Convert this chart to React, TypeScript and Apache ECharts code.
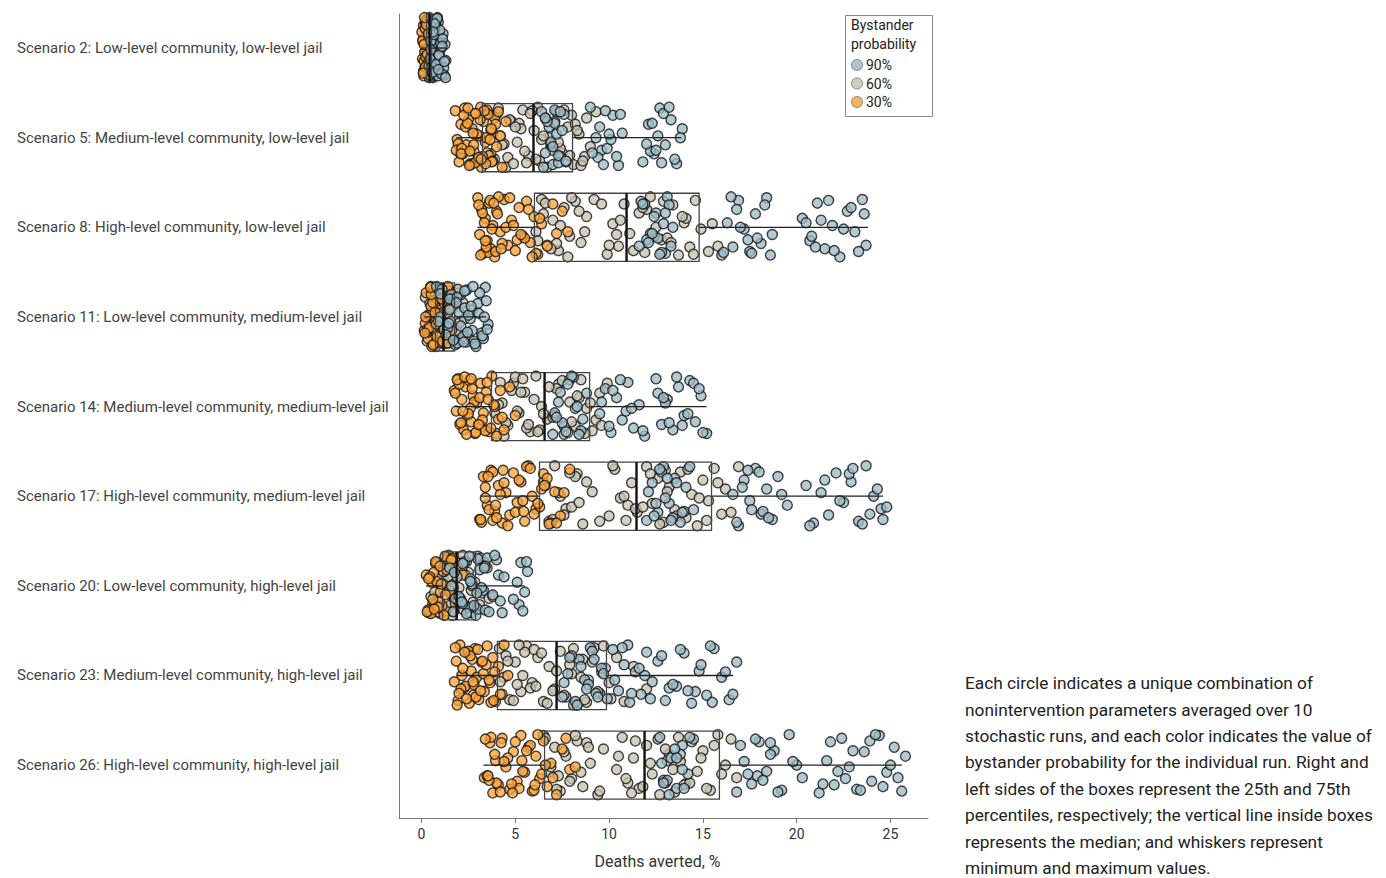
import React, { useEffect, useRef } from "react";
import * as echarts from "echarts";

const FONT = "Roboto, sans-serif";

const SCENARIOS = [
  "Scenario 2: Low-level community, low-level jail",
  "Scenario 5: Medium-level community, low-level jail",
  "Scenario 8: High-level community, low-level jail",
  "Scenario 11: Low-level community, medium-level jail",
  "Scenario 14: Medium-level community, medium-level jail",
  "Scenario 17: High-level community, medium-level jail",
  "Scenario 20: Low-level community, high-level jail",
  "Scenario 23: Medium-level community, high-level jail",
  "Scenario 26: High-level community, high-level jail",
];

const X_TICKS = [0, 5, 10, 15, 20, 25];

// Box statistics (min, 25th, median, 75th, max)
const BOX_MIN = [0.0, 1.85, 2.98, 0.15, 1.8, 3.15, 0.25, 1.9, 3.3];
const BOX_Q1 = [0.27, 3.25, 6.02, 0.75, 3.73, 6.29, 1.12, 4.05, 6.56];
const BOX_MED = [0.43, 5.97, 10.93, 1.17, 6.56, 11.46, 1.87, 7.2, 11.89];
const BOX_Q3 = [0.53, 8.05, 14.8, 1.76, 8.96, 15.46, 2.88, 9.86, 15.88];
const BOX_MAX = [1.3, 13.86, 23.8, 3.45, 15.2, 24.6, 5.5, 16.6, 25.6];

// Vertical jitter offsets (row units)
const JITTER = [0.12, -0.25, 0.31, -0.05, 0.22, -0.3, 0.02, 0.27, -0.15, 0.18, -0.33, 0.08, -0.2, 0.29, -0.1, 0.15, -0.27, 0.24, -0.02, 0.33, -0.18, 0.05, -0.31, 0.2, -0.08, 0.26, -0.22, 0.1, -0.29, 0.17, -0.12, 0.3, -0.04, 0.21, -0.26, 0.07, -0.16, 0.28, -0.34, 0.0, 0.14];

// Deaths averted (%) per scenario, bystander probability 30%
const P30 = [
  [0.05, 0.1, 0.12, 0.15, 0.18, 0.2, 0.22, 0.25, 0.28, 0.3, 0.32, 0.35, 0.38, 0.4, 0.08, 0.14, 0.24, 0.3, 0.36, 0.42, 0.02, 0.17, 0.27, 0.33, 0.06, 0.11, 0.19, 0.23, 0.29, 0.34, 0.39, 0.44, 0.13, 0.21, 0.26, 0.31, 0.37, 0.09, 0.16],
  [1.8, 1.9, 2.0, 2.1, 2.2, 2.3, 2.4, 2.5, 2.6, 2.7, 2.8, 2.9, 3.0, 3.1, 3.2, 3.3, 3.4, 3.5, 3.6, 3.7, 3.8, 3.9, 4.0, 4.1, 2.05, 2.35, 2.65, 2.95, 3.25, 3.55, 1.95, 2.45, 2.85, 3.15, 3.45, 1.85, 2.15, 2.25, 2.55, 2.75, 3.05, 3.35, 3.65, 3.75, 3.95, 2.12, 2.48, 2.78, 3.12, 3.42, 3.72, 2.58, 2.88, 3.18, 4.2, 4.3, 4.5],
  [3.0, 3.1, 3.2, 3.3, 3.4, 3.5, 3.6, 3.7, 3.8, 3.9, 4.0, 4.2, 4.4, 4.6, 4.8, 5.0, 5.2, 5.4, 5.6, 5.8, 6.0, 6.2, 6.4, 6.7, 7.0, 7.2, 3.25, 3.55, 4.1, 4.5, 5.1, 5.5, 3.05, 3.15, 3.35, 3.45, 3.65, 3.75, 3.95, 4.05, 4.3, 4.7, 5.3, 5.7, 6.1, 6.3, 3.4, 3.85, 4.25, 4.9, 5.9, 7.5, 7.8],
  [0.15, 0.25, 0.35, 0.45, 0.55, 0.65, 0.75, 0.85, 0.95, 1.05, 1.15, 1.25, 1.35, 1.45, 0.3, 0.5, 0.7, 0.9, 1.1, 1.3, 0.2, 0.6, 1.0, 1.4, 0.22, 0.32, 0.42, 0.52, 0.62, 0.72, 0.82, 0.92, 1.02, 1.12, 1.22, 0.18, 0.48, 0.78, 1.08, 1.38, 1.5, 1.6],
  [1.75, 1.85, 1.95, 2.05, 2.15, 2.25, 2.35, 2.45, 2.55, 2.65, 2.75, 2.85, 2.95, 3.05, 3.15, 3.3, 3.45, 3.6, 3.75, 3.9, 4.1, 4.3, 2.0, 2.4, 2.8, 3.2, 1.9, 2.6, 3.4, 1.8, 2.1, 2.3, 2.5, 2.7, 2.9, 3.1, 3.25, 3.5, 3.7, 3.85, 4.0, 4.2, 2.2, 2.65, 3.05, 3.55, 4.4, 4.7, 5.0],
  [3.1, 3.3, 3.5, 3.7, 3.9, 4.1, 4.3, 4.5, 4.7, 4.9, 5.1, 5.3, 5.5, 5.7, 5.9, 6.1, 6.3, 6.5, 6.8, 7.1, 7.4, 7.9, 3.4, 3.8, 4.4, 5.0, 5.6, 6.2, 6.7, 3.2, 3.4, 3.6, 3.8, 4.0, 4.2, 4.6, 5.2, 5.4, 5.8, 6.0, 6.4, 3.15, 3.55, 3.95, 4.35, 5.45, 6.55, 7.2, 7.6],
  [0.25, 0.4, 0.55, 0.7, 0.85, 1.0, 1.15, 1.3, 1.45, 1.6, 1.75, 1.9, 2.0, 0.5, 0.8, 1.1, 1.4, 1.7, 0.35, 0.65, 0.95, 1.25, 1.55, 1.85, 0.3, 0.45, 0.6, 0.75, 0.9, 1.05, 1.2, 1.35, 1.5, 1.65, 1.8, 0.38, 0.68, 0.98, 1.28, 1.58, 1.95, 2.2],
  [1.75, 1.85, 1.95, 2.05, 2.15, 2.25, 2.35, 2.45, 2.55, 2.65, 2.75, 2.85, 2.95, 3.05, 3.2, 3.35, 3.5, 3.65, 3.8, 3.95, 4.1, 2.1, 2.5, 2.9, 3.3, 1.9, 2.7, 3.6, 1.8, 2.0, 2.2, 2.4, 2.6, 2.8, 3.0, 3.15, 3.45, 3.7, 3.9, 4.2, 2.3, 2.75, 3.25, 3.85, 4.4, 4.6],
  [3.35, 3.5, 3.65, 3.8, 3.95, 4.1, 4.3, 4.5, 4.7, 4.9, 5.1, 5.3, 5.5, 5.7, 5.9, 6.1, 6.3, 6.5, 6.7, 6.9, 7.2, 7.5, 7.9, 3.7, 4.0, 4.6, 5.2, 5.8, 6.4, 3.4, 3.6, 3.9, 4.2, 4.4, 4.8, 5.0, 5.4, 5.6, 6.0, 6.2, 6.6, 7.0, 3.55, 4.25, 4.85, 5.35, 6.05, 7.7, 8.2],
];

// bystander probability 60%
const P60 = [
  [0.2, 0.25, 0.3, 0.35, 0.4, 0.45, 0.5, 0.55, 0.6, 0.65, 0.7, 0.75, 0.8, 0.85, 0.32, 0.48, 0.58, 0.68, 0.38, 0.52, 0.62, 0.72, 0.28, 0.44, 0.22, 0.27, 0.33, 0.42, 0.47, 0.53, 0.57, 0.63, 0.67, 0.73, 0.78, 0.82, 0.36, 0.56],
  [3.6, 3.9, 4.2, 4.5, 4.8, 5.1, 5.4, 5.7, 6.0, 6.3, 6.6, 6.9, 7.2, 7.5, 7.8, 8.1, 8.4, 8.7, 4.0, 4.4, 5.2, 5.6, 6.2, 6.8, 7.0, 7.4, 8.0, 8.5, 3.8, 4.6, 5.9, 6.4, 7.7, 8.2, 3.7, 4.1, 4.3, 4.7, 4.9, 5.3, 5.5, 5.8, 6.1, 6.5, 6.7, 7.1, 7.3, 7.6, 7.9, 8.3, 8.6, 8.8, 9.0, 9.3, 3.5, 5.0],
  [6.1, 6.4, 6.7, 7.0, 7.3, 7.6, 7.9, 8.2, 8.5, 8.8, 9.9, 10.2, 10.5, 10.8, 11.1, 11.6, 11.9, 12.2, 12.5, 12.8, 13.1, 13.4, 13.7, 14.0, 14.3, 14.6, 14.9, 15.3, 6.5, 7.2, 8.0, 10.4, 12.0, 13.0, 14.1, 6.2, 6.6, 6.9, 7.4, 7.8, 8.4, 8.7, 9.2, 10.0, 10.6, 11.3, 11.8, 12.4, 12.9, 13.3, 13.9, 14.5, 15.5, 15.8, 9.6],
  [0.2, 0.4, 0.6, 0.8, 1.0, 1.2, 1.4, 1.6, 1.8, 2.0, 2.2, 2.4, 0.5, 0.9, 1.3, 1.7, 2.1, 0.7, 1.1, 1.5, 1.9, 2.3, 0.3, 0.45, 0.65, 0.85, 1.05, 1.25, 1.45, 1.65, 1.85, 2.05, 2.25, 0.35, 0.75, 1.15, 1.55, 1.95, 2.5, 2.7],
  [4.0, 4.3, 4.6, 4.9, 5.2, 5.5, 5.8, 6.1, 6.4, 6.7, 7.0, 7.3, 7.6, 7.9, 8.2, 8.5, 8.8, 9.1, 9.5, 4.5, 5.0, 6.5, 7.2, 7.8, 8.4, 9.3, 4.2, 5.6, 4.1, 4.4, 4.8, 5.1, 5.4, 5.7, 6.0, 6.3, 6.8, 7.1, 7.5, 8.0, 8.3, 8.7, 9.0, 9.6, 9.9, 3.9, 5.3, 6.2],
  [6.5, 6.8, 7.1, 7.4, 7.7, 8.0, 8.3, 8.6, 9.1, 10.0, 10.3, 10.6, 10.9, 11.2, 11.5, 12.0, 12.3, 12.6, 12.9, 13.2, 13.5, 13.8, 14.1, 14.4, 14.7, 15.0, 15.3, 15.6, 16.0, 16.2, 7.0, 8.2, 11.0, 13.0, 14.0, 6.6, 6.9, 7.3, 7.6, 7.9, 8.4, 8.8, 9.5, 10.2, 10.8, 11.4, 11.8, 12.2, 12.7, 13.1, 13.6, 14.2, 14.8, 15.2, 15.8, 16.5, 16.9],
  [0.5, 0.75, 1.0, 1.25, 1.5, 1.75, 2.0, 2.25, 2.5, 2.75, 3.0, 3.25, 3.5, 0.9, 1.4, 1.9, 2.4, 2.9, 1.15, 1.65, 2.15, 2.65, 3.15, 0.6, 0.85, 1.1, 1.35, 1.6, 1.85, 2.1, 2.35, 2.6, 2.85, 3.1, 3.35, 0.7, 1.2, 1.7, 2.2, 2.7, 3.6, 3.8],
  [4.15, 4.4, 4.7, 5.0, 5.3, 5.6, 5.9, 6.2, 6.5, 6.8, 7.1, 7.4, 7.7, 8.0, 8.3, 8.6, 8.9, 9.2, 9.5, 9.8, 10.1, 4.5, 5.1, 6.0, 7.0, 7.9, 8.8, 9.6, 4.3, 5.5, 4.2, 4.6, 4.9, 5.2, 5.4, 5.8, 6.1, 6.4, 6.7, 7.2, 7.6, 8.1, 8.5, 8.7, 9.1, 9.4, 9.7, 10.0, 10.4, 10.8, 11.3, 12.0],
  [6.5, 6.8, 7.1, 7.4, 7.7, 8.0, 8.3, 8.6, 9.0, 9.4, 9.7, 10.4, 10.7, 11.0, 11.3, 11.6, 12.0, 12.3, 12.6, 12.9, 13.2, 13.5, 13.8, 14.1, 14.4, 14.7, 15.0, 15.4, 15.8, 16.2, 16.8, 7.3, 8.8, 11.2, 13.1, 14.0, 6.6, 6.9, 7.2, 7.6, 7.9, 8.2, 8.5, 8.9, 9.5, 10.5, 10.9, 11.4, 11.8, 12.2, 12.7, 13.0, 13.4, 13.7, 14.3, 14.9, 15.2, 15.6, 16.0, 16.5],
];

// bystander probability 90%
const P90 = [
  [0.4, 0.5, 0.6, 0.7, 0.8, 0.9, 1.0, 1.1, 1.2, 1.25, 0.55, 0.75, 0.95, 1.15, 0.65, 0.85, 1.05, 1.3, 0.45, 0.72, 0.88, 1.02, 1.18, 0.6, 0.5, 0.58, 0.68, 0.78, 0.83, 0.93, 0.98, 1.08, 1.12, 1.22, 0.7, 0.9, 1.1, 1.28, 0.62],
  [6.4, 6.6, 6.8, 7.0, 7.2, 7.4, 7.6, 6.9, 7.1, 7.3, 9.0, 9.3, 9.6, 9.9, 10.2, 10.5, 10.7, 9.4, 9.8, 10.1, 11.8, 12.1, 12.4, 12.7, 13.0, 13.3, 13.6, 13.9, 12.2, 12.9, 13.5, 12.6, 6.5, 6.7, 6.9, 7.1, 7.3, 7.5, 7.7, 6.6, 7.0, 7.4, 9.1, 9.5, 9.7, 10.0, 10.4, 10.6, 12.0, 12.3, 12.8, 13.2, 13.8, 12.5],
  [11.6, 11.9, 12.2, 12.5, 12.8, 13.1, 13.4, 12.0, 12.6, 13.2, 16.0, 16.3, 16.6, 16.9, 17.2, 17.5, 17.8, 18.1, 18.4, 18.7, 16.8, 17.6, 20.3, 20.7, 21.1, 21.5, 21.9, 22.3, 22.7, 23.1, 23.5, 23.7, 21.3, 22.0, 22.9, 20.8, 11.7, 12.1, 12.4, 12.7, 12.9, 13.3, 11.8, 12.3, 13.0, 16.1, 16.5, 17.0, 17.4, 17.9, 18.3, 18.6, 20.5, 21.0, 21.7, 22.5, 23.3, 23.6],
  [0.8, 1.0, 1.2, 1.4, 1.6, 1.8, 2.0, 2.2, 2.4, 2.6, 2.8, 3.0, 3.2, 3.4, 3.55, 1.5, 1.9, 2.3, 2.7, 3.1, 3.3, 2.5, 2.9, 3.45, 0.9, 1.1, 1.3, 1.5, 1.7, 1.9, 2.1, 2.3, 2.45, 2.65, 2.85, 3.05, 3.25, 1.0, 1.45, 1.85, 2.25, 2.75, 3.35, 3.5],
  [7.0, 7.3, 7.6, 7.9, 8.2, 8.5, 8.8, 7.5, 8.1, 9.5, 9.8, 10.1, 10.4, 10.7, 11.0, 11.3, 11.6, 11.9, 10.2, 10.9, 12.5, 12.8, 13.1, 13.4, 13.7, 14.0, 14.3, 14.6, 14.9, 15.2, 13.0, 13.9, 14.5, 7.1, 7.4, 7.7, 8.0, 8.3, 8.6, 7.2, 7.8, 8.4, 9.6, 10.0, 10.6, 11.2, 11.8, 12.6, 13.2, 13.6, 14.2, 14.8, 15.0, 12.9],
  [12.0, 12.3, 12.6, 12.9, 13.2, 13.5, 13.8, 14.1, 14.5, 12.8, 13.4, 16.6, 16.9, 17.2, 17.5, 17.8, 18.1, 18.4, 18.7, 19.0, 19.5, 17.4, 18.2, 20.5, 20.9, 21.3, 21.7, 22.1, 22.5, 22.9, 23.3, 23.7, 24.1, 24.5, 24.8, 22.8, 23.5, 12.1, 12.4, 12.7, 13.0, 13.3, 13.6, 13.9, 14.3, 12.5, 13.1, 16.8, 17.1, 17.6, 18.0, 18.5, 19.2, 20.7, 21.5, 22.3, 23.0, 23.9, 24.3, 24.6],
  [1.5, 1.7, 1.9, 2.1, 2.3, 2.5, 2.7, 2.9, 3.1, 3.3, 3.5, 2.2, 2.6, 3.0, 3.4, 3.8, 4.0, 4.2, 4.1, 4.3, 5.1, 5.2, 5.3, 5.5, 5.65, 5.4, 3.9, 1.6, 1.8, 2.0, 2.2, 2.4, 2.6, 2.8, 3.0, 3.2, 3.4, 1.75, 2.15, 2.55, 2.95, 3.35, 3.6, 4.4, 4.9, 5.6],
  [7.5, 7.8, 8.1, 8.4, 8.7, 9.0, 9.3, 9.6, 9.9, 8.0, 8.9, 10.2, 10.5, 10.8, 11.1, 11.4, 11.7, 12.0, 12.3, 12.6, 13.0, 11.0, 11.9, 13.2, 13.6, 14.0, 14.4, 14.8, 15.2, 15.6, 16.0, 16.4, 16.8, 14.6, 15.4, 7.6, 7.9, 8.2, 8.5, 8.8, 9.1, 9.4, 9.7, 8.3, 9.2, 10.3, 10.7, 11.2, 11.6, 12.2, 12.8, 13.4, 13.8, 14.2, 14.9, 15.5, 16.2, 16.6],
  [12.7, 13.0, 13.3, 13.6, 13.9, 14.2, 14.5, 13.1, 13.8, 16.8, 17.2, 17.6, 18.0, 18.4, 18.8, 19.2, 19.6, 20.0, 20.3, 17.9, 18.6, 21.2, 21.6, 22.0, 22.4, 22.8, 23.2, 23.6, 24.0, 24.4, 24.8, 25.2, 25.6, 25.8, 22.6, 23.9, 24.6, 12.8, 13.2, 13.5, 13.9, 14.3, 12.9, 13.6, 14.0, 17.0, 17.4, 17.8, 18.2, 18.6, 19.0, 19.8, 21.4, 21.8, 22.2, 23.0, 23.4, 24.2, 25.0, 25.4],
];

const CAPTION = [
  "Each circle indicates a unique combination of",
  "nonintervention parameters averaged over 10",
  "stochastic runs, and each color indicates the value of",
  "bystander probability for the individual run. Right and",
  "left sides of the boxes represent the 25th and 75th",
  "percentiles, respectively; the vertical line inside boxes",
  "represents the median; and whiskers represent",
  "minimum and maximum values.",
];

function toPoints(groups: number[][], shift: number) {
  const pts: number[][] = [];
  groups.forEach((vals, r) => {
    vals.forEach((v, i) => {
      pts.push([v, r + 1 + JITTER[(i + r * 5 + shift) % JITTER.length]]);
    });
  });
  return pts;
}

export default function App() {
  const ref = useRef<HTMLDivElement>(null);
  useEffect(() => {
    document.body.style.margin = "0";
    const chart = echarts.init(ref.current!, null, { renderer: "svg" });
    const symbolStyle = (color: string) => ({
      color,
      borderColor: "#111",
      borderWidth: 1.4,
      opacity: 0.78,
    });
    const boxData = SCENARIOS.map((_, i) => [i + 1, BOX_MIN[i], BOX_Q1[i], BOX_MED[i], BOX_Q3[i], BOX_MAX[i]]);
    chart.setOption({
      animation: false,
      textStyle: { fontFamily: FONT },
      grid: { left: 399, top: 14, right: 458, bottom: 60, containLabel: false, outerBoundsMode: "none" },
      xAxis: {
        type: "value",
        min: -1.2,
        max: 27,
        axisLine: { show: true, lineStyle: { color: "#777", width: 1 } },
        axisTick: { show: true, customValues: X_TICKS, length: 5, lineStyle: { color: "#777" } },
        axisLabel: { customValues: X_TICKS, color: "#333", fontSize: 14, margin: 9, fontFamily: FONT },
        splitLine: { show: false },
        name: "Deaths averted, %",
        nameLocation: "middle",
        nameGap: 35,
        nameTextStyle: { color: "#333", fontSize: 16, fontFamily: FONT, padding: [0, 12, 0, 0] },
      },
      yAxis: {
        type: "value",
        inverse: true,
        min: 0.62,
        max: 9.59,
        axisLine: { show: true, onZero: false, lineStyle: { color: "#777", width: 1 } },
        axisTick: { show: false },
        splitLine: { show: false },
        axisLabel: {
          customValues: [1, 2, 3, 4, 5, 6, 7, 8, 9],
          formatter: (v: number) => SCENARIOS[Math.round(v) - 1] || "",
          align: "left",
          margin: 382,
          color: "#444",
          fontSize: 15,
          fontFamily: FONT,
        },
      },
      legend: {
        data: ["90%", "60%", "30%"],
        orient: "vertical",
        left: 851,
        top: 58,
        padding: 0,
        itemGap: 4.5,
        itemWidth: 12,
        itemHeight: 11,
        icon: "circle",
        itemStyle: { borderColor: "#777", borderWidth: 1, opacity: 0.85 },
        textStyle: { fontSize: 14, color: "#222", fontFamily: FONT, padding: [0, 0, 0, -2] },
      },
      graphic: [
        { type: "rect", left: 843, top: 13, shape: { width: 87, height: 101 }, style: { fill: "none", stroke: "#888", lineWidth: 1 }, silent: true },
        { type: "text", left: 851, top: 16, style: { text: "Bystander\nprobability", fontSize: 14, lineHeight: 18.5, fill: "#222", fontFamily: FONT } },
        { type: "text", left: 965, top: 670, style: { text: CAPTION.join("\n"), fontSize: 17.3, lineHeight: 26.4, fill: "#222", fontFamily: FONT } },
      ],
      series: [
        { name: "60%", type: "scatter", symbolSize: 10, data: toPoints(P60, 11), itemStyle: symbolStyle("#cbc3b0"), z: 2 },
        { name: "30%", type: "scatter", symbolSize: 10, data: toPoints(P30, 0), itemStyle: symbolStyle("#fba43b"), z: 2 },
        { name: "90%", type: "scatter", symbolSize: 10, data: toPoints(P90, 23), itemStyle: symbolStyle("#9bbbc8"), z: 2 },
        {
          type: "custom",
          z: 5,
          silent: true,
          data: boxData,
          encode: { x: [1, 2, 3, 4, 5], y: 0 },
          renderItem: (params: any, api: any) => {
            const row = api.value(0);
            const pMin = api.coord([api.value(1), row]);
            const pQ1 = api.coord([api.value(2), row]);
            const pMed = api.coord([api.value(3), row]);
            const pQ3 = api.coord([api.value(4), row]);
            const pMax = api.coord([api.value(5), row]);
            const h = Math.abs(api.size([0, 0.38])[1]);
            const c = pMed[1];
            return {
              type: "group",
              children: [
                { type: "line", shape: { x1: pMin[0], y1: c, x2: pQ1[0], y2: c }, style: { stroke: "#222", lineWidth: 1.3 } },
                { type: "line", shape: { x1: pQ3[0], y1: c, x2: pMax[0], y2: c }, style: { stroke: "#222", lineWidth: 1.3 } },
                { type: "rect", shape: { x: pQ1[0], y: c - h, width: pQ3[0] - pQ1[0], height: 2 * h }, style: { fill: "none", stroke: "#444", lineWidth: 1.3 } },
                { type: "line", shape: { x1: pMed[0], y1: c - h, x2: pMed[0], y2: c + h }, style: { stroke: "#111", lineWidth: 2.4 } },
              ],
            };
          },
        },
      ],
    });
    return () => chart.dispose();
  }, []);
  return <div ref={ref} style={{ width: 1386, height: 878 }} />;
}
